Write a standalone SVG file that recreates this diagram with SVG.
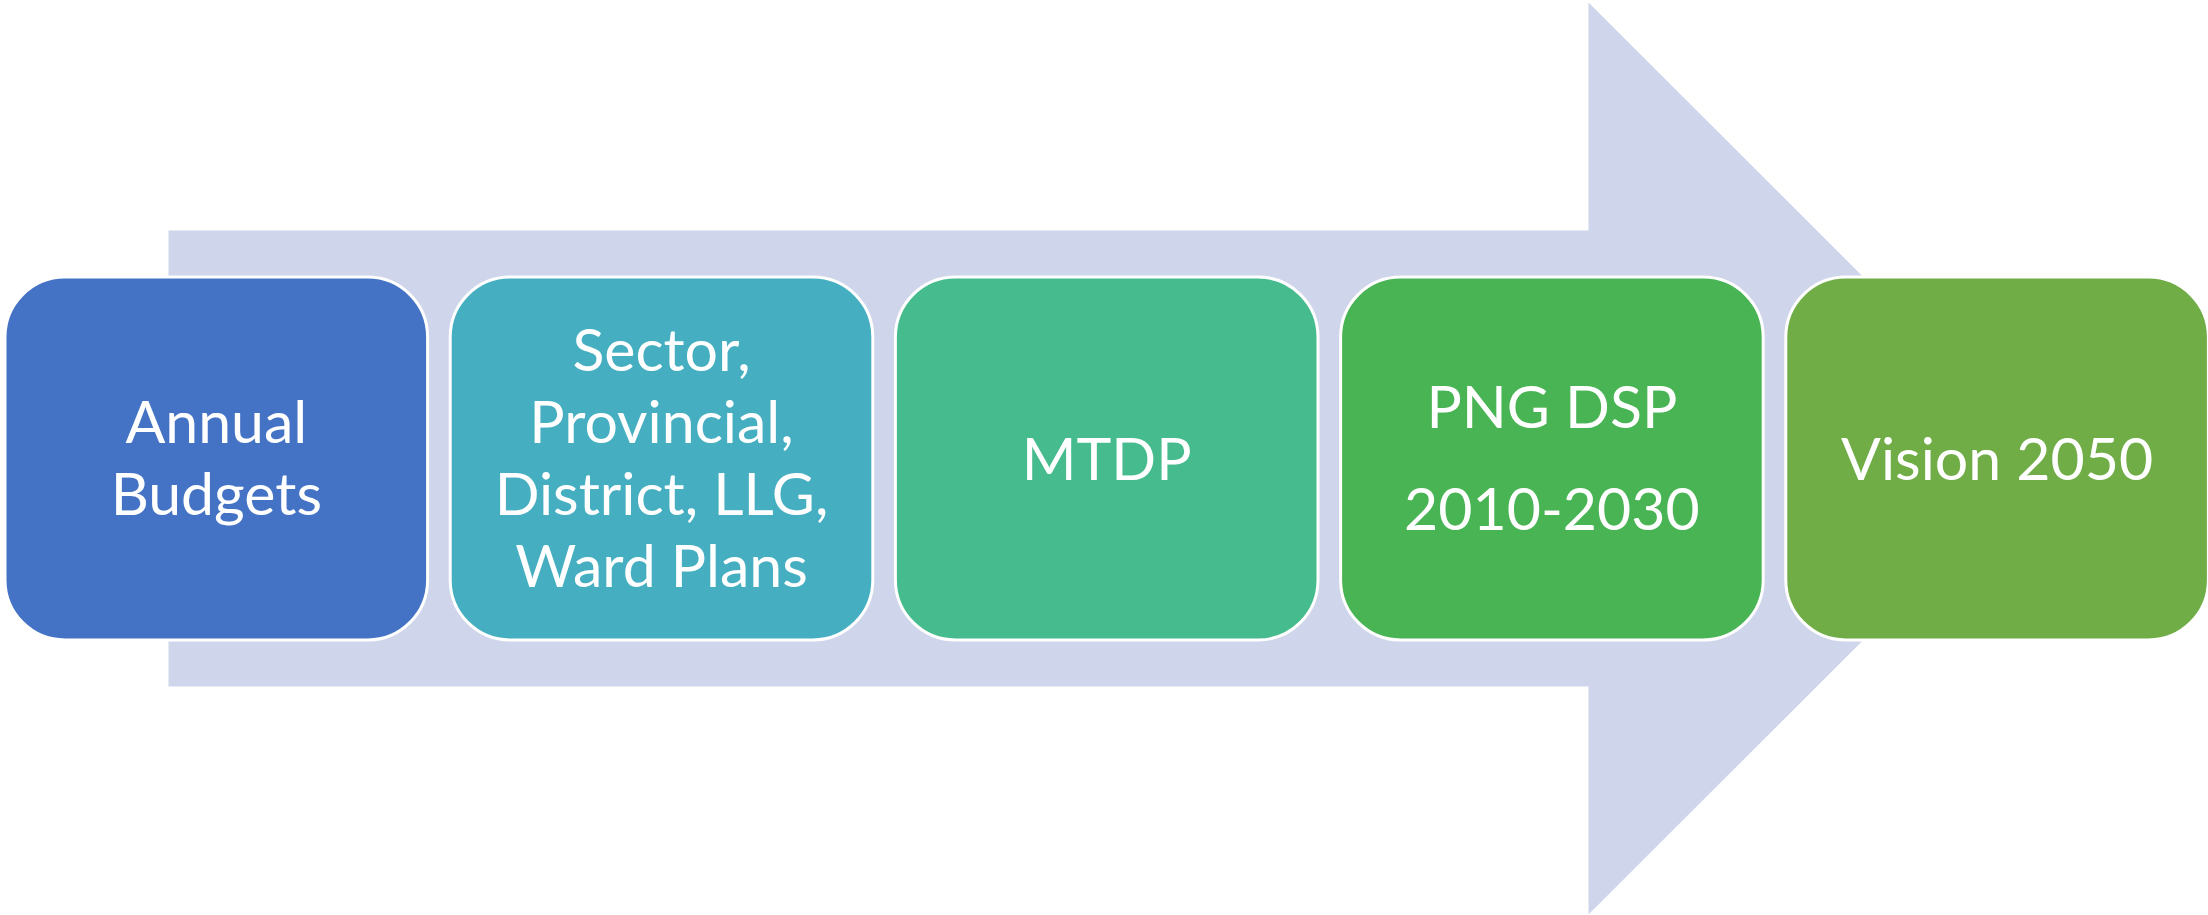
<svg xmlns="http://www.w3.org/2000/svg" width="2208" height="915" viewBox="0 0 2208 915">
<style>
.box{stroke:#ffffff;stroke-width:3}
.t{font-family:Lato,"Open Sans","Liberation Sans",sans-serif;font-size:59px;fill:#ffffff;text-anchor:middle}
</style>
<rect width="2208" height="915" fill="#ffffff"/>
<g id="arrow">
<polygon points="168.5,230.5 1588.5,230.5 1588.5,2.5 2045,458.5 1588.5,914.5 1588.5,686.5 168.5,686.5" fill="#CFD5EA"/>
</g>
<g id="node1">
<rect class="box" x="5" y="277" width="422.6" height="363" rx="60" fill="#4472C4"/>
<text class="t"><tspan x="216.3" y="443">Annual</tspan><tspan x="216.3" y="515">Budgets</tspan></text>
</g>
<g id="node2">
<rect class="box" x="450.2" y="277" width="422.6" height="363" rx="60" fill="#45AFC1"/>
<text class="t"><tspan x="661.5" y="371">Sector,</tspan><tspan x="661.5" y="443">Provincial,</tspan><tspan x="661.5" y="515">District, LLG,</tspan><tspan x="661.5" y="587">Ward Plans</tspan></text>
</g>
<g id="node3">
<rect class="box" x="895.4" y="277" width="422.6" height="363" rx="60" fill="#45BB8E"/>
<text class="t" x="1106.7" y="480">MTDP</text>
</g>
<g id="node4">
<rect class="box" x="1340.6" y="277" width="422.6" height="363" rx="60" fill="#49B454"/>
<text class="t"><tspan x="1551.9" y="428">PNG DSP</tspan><tspan x="1551.9" y="530">2010-2030</tspan></text>
</g>
<g id="node5">
<rect class="box" x="1785.8" y="277" width="422.6" height="363" rx="60" fill="#70AD47"/>
<text class="t" x="1997.1" y="480">Vision 2050</text>
</g>
</svg>
